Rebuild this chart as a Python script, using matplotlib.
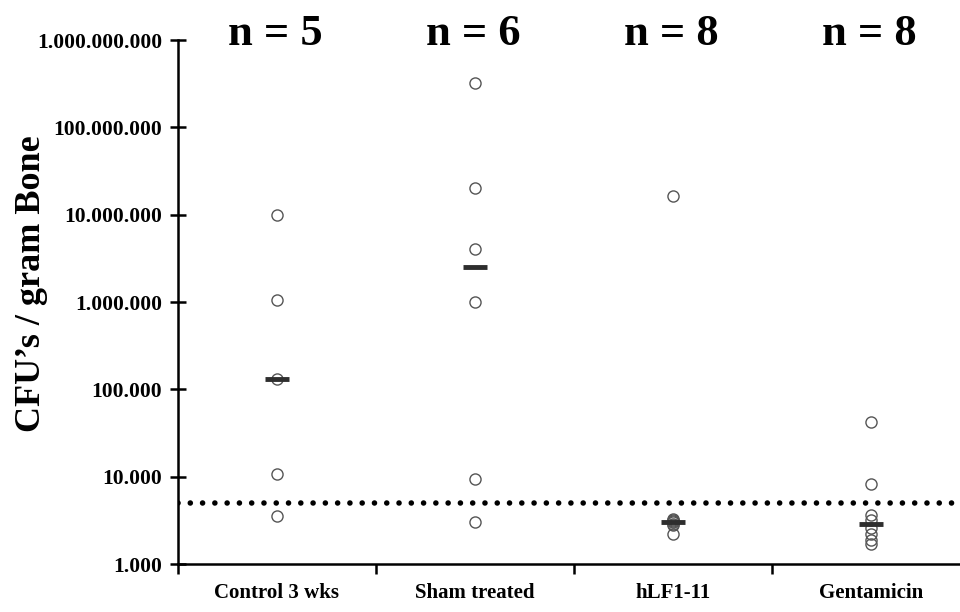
import numpy as np
import matplotlib
matplotlib.use("Agg")
import matplotlib.pyplot as plt
from matplotlib.ticker import FixedLocator, FuncFormatter
import matplotlib.transforms as mtransforms

# data (CFU per gram bone)
groups = ["Control 3 wks", "Sham treated", "hLF1-11", "Gentamicin"]
control = [1.0e7, 1.05e6, 1.3e5, 1.07e4, 3.5e3]
sham = [3.2e8, 2.0e7, 4.0e6, 1.0e6, 9.4e3, 3.0e3]
hlf = [1.65e7, 3.3e3, 3.2e3, 3.1e3, 3.0e3, 2.9e3, 2.8e3, 2.2e3]
genta = [4.2e4, 8.3e3, 3.6e3, 3.2e3, 2.6e3, 2.2e3, 1.9e3, 1.7e3]
detection_limit = 5000
ytick_vals = [1e3, 1e4, 1e5, 1e6, 1e7, 1e8, 1e9]

SERIF = "Liberation Serif"
EDGE = "#555555"
BAR = "#2e2e2e"

fig = plt.figure(figsize=(9.6, 6.12), dpi=100)
ax = fig.add_axes([178 / 960, 1 - 564 / 612, 1 - 178 / 960, 524 / 612])
top_tf = mtransforms.blended_transform_factory(ax.transData, ax.transAxes)

all_vals = [control, sham, hlf, genta]
for i, vals in enumerate(all_vals):
    x = np.full(len(vals), i + 0.5)
    ax.plot(x, vals, linestyle="none", marker="o", markersize=8,
            markerfacecolor="none", markeredgecolor=EDGE, markeredgewidth=1.0,
            zorder=3)
    ax.plot([i + 0.5], [np.median(vals)], linestyle="none", marker="_",
            markersize=17, markeredgewidth=3.5, color=BAR, zorder=4)
    ax.text(i + 0.49, 0.99, f"n = {len(vals)}", transform=top_tf,
            ha="center", va="baseline", fontsize=32, fontweight="bold",
            family=SERIF)

# detection limit
ax.axhline(detection_limit, color="black", lw=4.0, dashes=(0.01, 2.2),
           dash_capstyle="round", zorder=2)

ax.set_yscale("log")
ax.set_ylim(1e3, 1e9)
ax.set_xlim(0, 3.95)
ax.yaxis.set_major_locator(FixedLocator(ytick_vals))
ax.yaxis.set_minor_locator(FixedLocator([]))
ax.yaxis.set_major_formatter(FuncFormatter(lambda v, p: f"{int(round(v)):,}".replace(",", ".")))

ax.set_xticks([0, 1, 2, 3])
ax.set_xticklabels([])
ax.set_xticks([0.5, 1.5, 2.5, 3.5], minor=True)
ax.set_xticklabels(groups, minor=True, fontsize=15, fontweight="bold", family=SERIF)
ax.tick_params(axis="x", which="minor", length=0, pad=14)
ax.tick_params(axis="x", which="major", direction="out", length=7, width=1.8)
ax.tick_params(axis="y", which="major", direction="inout", length=11, width=1.8, pad=6)
for lab in ax.get_yticklabels():
    lab.set_fontsize(15.5)
    lab.set_fontweight("bold")
    lab.set_family(SERIF)

for s in ["top", "right"]:
    ax.spines[s].set_visible(False)
for s in ["left", "bottom"]:
    ax.spines[s].set_linewidth(1.8)

ax.set_ylabel("CFU’s / gram Bone", fontsize=26, fontweight="bold", family=SERIF)
ax.yaxis.set_label_coords(-0.166, 0.535)
ax.patch.set_visible(False)

fig.savefig("out.png", dpi=100)
